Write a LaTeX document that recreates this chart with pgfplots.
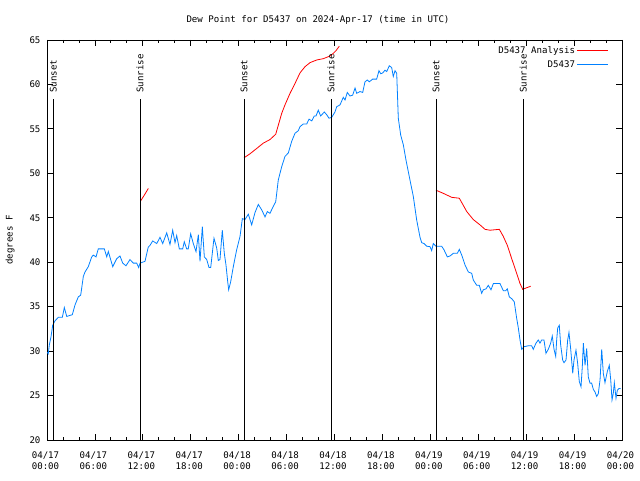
\documentclass[border=0pt]{standalone}
\usepackage{pgfplots}
\pgfplotsset{compat=1.18}
\usepackage{fontspec}
\setmainfont{DejaVu Sans Mono}
\definecolor{serblue}{RGB}{0,128,255}
\definecolor{serred}{RGB}{255,0,0}
\newcommand{\gfont}{\fontsize{9.1}{11}\selectfont}
\begin{document}
\begin{tikzpicture}
\useasboundingbox (0,0) rectangle (640pt,480pt);
\begin{axis}[
  at={(47pt,40pt)}, anchor=south west,
  scale only axis, width=575pt, height=400pt,
  xmin=0, xmax=72, ymin=20, ymax=65,
  xtick={0,6,...,72},
  xticklabels={{04/17\\00:00},{04/17\\06:00},{04/17\\12:00},{04/17\\18:00},{04/18\\00:00},{04/18\\06:00},{04/18\\12:00},{04/18\\18:00},{04/19\\00:00},{04/19\\06:00},{04/19\\12:00},{04/19\\18:00},{04/20\\00:00}},
  minor x tick num=2,
  ytick={20,25,...,65},
  tick align=inside,
  major tick length=6pt, minor tick length=3pt,
  every tick/.style={black, line width=0.8pt},
  axis line style={line width=0.8pt},
  /pgf/number format/assume math mode=true,
  tick label style={font=\gfont},
  xticklabel style={align=center, yshift=-8pt, xshift=-1.5pt},
  yticklabel style={xshift=-3pt},
  ylabel={degrees F},
  ylabel style={font=\gfont, at={(axis description cs:-0.0643,0.5)}, anchor=center, rotate=0},
  legend style={draw=none, fill=none, font=\gfont, at={(axis description cs:0.9774,0.989)}, anchor=north east, row sep=1.5pt, inner sep=0pt},
  legend cell align=right,
  legend plot pos=right,
  legend image code/.code={\path (0pt,0pt) -- (31pt,0pt); \draw[#1] (3pt,0pt) -- (31pt,0pt);},
  unbounded coords=jump,
  clip=true,
]
\addplot[serred, line width=0.8pt] coordinates {
(11.73,46.9) (12.22,47.6) (12.69,48.3)
(12.8,nan)
(24.67,51.75) (25.42,52.2) (26.26,52.8) (27.09,53.4) (27.92,53.8) (28.64,54.4) (28.96,55.4) (29.39,56.75) (29.80,57.7) (30.43,59.0) (31.05,60.1) (31.68,61.3) (32.31,62.0) (32.93,62.45) (33.77,62.75) (34.60,62.9) (35.44,63.2) (35.85,63.5) (36.19,63.8) (36.60,64.3)
(36.7,nan)
(48.71,48.1) (49.62,47.75) (50.68,47.3) (51.63,47.2) (52.56,45.7) (53.38,44.8) (54.22,44.2) (54.85,43.7) (55.47,43.6) (56.64,43.7) (57.14,42.9) (57.64,41.9) (58.19,40.4) (58.81,38.75) (59.23,37.6) (59.57,36.95) (59.98,37.1) (60.57,37.3)
};
\addlegendentry{D5437 Analysis}
\addplot[serblue, line width=0.8pt] coordinates {
(0,29.9) (0.16,29.7) (0.29,30.7) (0.50,31.6) (0.71,32.9) (1.00,33.4) (1.41,33.8) (1.92,33.8) (2.17,34.9) (2.47,33.9) (3.17,34.1) (3.51,35.2) (3.92,36.1) (4.22,36.3) (4.55,38.4) (4.76,38.9) (5.17,39.5) (5.60,40.6) (5.80,40.8) (6.14,40.6) (6.42,41.5) (7.18,41.5) (7.48,40.6) (7.68,41.2) (8.23,39.5) (8.73,40.4) (9.14,40.7) (9.48,39.9) (9.89,39.6) (10.39,40.3) (10.81,39.9) (11.23,39.9) (11.48,39.4) (11.65,39.9) (12.27,40.1) (12.68,41.7) (12.90,41.9) (13.24,42.4) (13.74,42.1) (14.15,42.8) (14.49,42.1) (14.99,43.3) (15.40,42.0) (15.74,43.6) (16.03,42.2) (16.24,43.0) (16.57,41.5) (16.99,41.5) (17.19,42.3) (17.49,41.5) (17.69,41.5) (17.99,43.2) (18.32,42.1) (18.66,41.2) (18.95,43.1) (19.16,40.1) (19.45,44.0) (19.70,40.6) (20.00,40.3) (20.29,39.4) (20.50,39.4) (20.91,42.7) (21.25,41.6) (21.45,40.2) (21.66,40.3) (21.95,43.6) (22.20,41.0) (22.41,39.7) (22.63,37.8) (22.75,36.9) (23.00,37.8) (23.33,39.5) (23.75,41.4) (24.17,42.9) (24.46,44.9) (24.79,44.8) (25.21,45.4) (25.63,44.2) (26.05,45.6) (26.46,46.5) (26.88,45.9) (27.30,45.1) (27.59,45.7) (27.92,45.5) (28.34,46.3) (28.64,46.8) (28.96,49.25) (29.39,50.75) (29.80,51.9) (30.22,52.3) (30.64,53.6) (31.05,54.5) (31.47,54.8) (31.68,55.25) (32.09,55.55) (32.52,55.55) (32.81,56.1) (33.15,55.9) (33.47,56.45) (33.68,56.45) (33.97,57.1) (34.27,56.45) (34.52,56.7) (34.72,56.9) (35.02,56.6) (35.31,56.2) (35.65,56.3) (36.06,56.9) (36.28,57.5) (36.69,57.7) (37.10,58.55) (37.32,58.25) (37.60,59.1) (37.94,58.7) (38.28,58.8) (38.57,59.6) (38.78,59.0) (39.19,59.2) (39.53,59.1) (39.82,60.3) (40.11,60.5) (40.36,60.3) (40.78,60.6) (41.28,60.6) (41.57,61.55) (41.79,61.2) (42.04,61.3) (42.32,61.6) (42.54,61.45) (42.86,62.1) (43.16,61.9) (43.36,60.9) (43.58,61.55) (43.79,61.25) (43.99,56.2) (44.29,54.3) (44.62,53.2) (44.95,51.5) (45.45,49.25) (45.87,47.4) (46.29,44.75) (46.71,42.8) (46.92,42.2) (47.21,42.1) (47.55,41.8) (47.96,41.75) (48.17,41.3) (48.37,42.1) (48.71,41.8) (49.42,41.8) (49.71,41.4) (50.13,40.6) (50.46,40.7) (50.88,41.0) (51.38,41.0) (51.63,41.45) (51.93,40.8) (52.34,39.7) (52.76,38.9) (53.18,38.75) (53.38,38.0) (53.81,37.4) (54.13,37.4) (54.43,36.5) (54.63,36.9) (54.97,37.0) (55.26,37.4) (55.60,36.9) (55.89,37.6) (56.72,37.6) (57.14,36.8) (57.44,36.8) (57.64,37.0) (57.89,36.1) (58.19,35.9) (58.51,35.55) (58.81,33.7) (59.02,32.6) (59.23,31.25) (59.44,30.2) (59.73,30.5) (60.27,30.6) (60.69,30.6) (60.89,30.2) (61.23,30.9) (61.52,31.25) (61.73,30.9) (61.94,31.25) (62.23,31.25) (62.48,29.75) (62.77,30.2) (63.07,30.9) (63.27,31.7) (63.49,30.2) (63.70,29.4) (63.82,31.25) (63.95,32.6) (64.15,32.9) (64.32,30.7) (64.57,29.0) (64.74,28.7) (64.99,29.0) (65.20,31.25) (65.36,32.1) (65.58,30.2) (65.83,27.5) (65.99,29.0) (66.24,30.1) (66.45,28.6) (66.65,26.6) (66.87,26.0) (67.03,28.25) (67.16,30.9) (67.37,28.4) (67.58,30.3) (67.78,27.1) (67.99,26.4) (68.20,26.4) (68.41,25.7) (68.62,25.4) (68.83,24.9) (69.03,25.2) (69.25,26.75) (69.46,30.2) (69.66,27.5) (69.87,26.45) (70.16,27.7) (70.41,28.4) (70.59,26.75) (70.75,24.5) (70.91,25.25) (71.04,26.45) (71.25,24.7) (71.42,25.6) (71.63,25.8) (71.84,25.8)
};
\addlegendentry{D5437}
\foreach \h/\lab in {0.79/Sunset, 11.65/Sunrise, 24.67/Sunset, 35.56/Sunrise, 48.71/Sunset, 59.64/Sunrise} {
  \edef\tmp{\noexpand\addplot[black, line width=0.8pt, forget plot] coordinates {(\h,20) (\h,58.4)};}
  \tmp
  \edef\tmp{\noexpand\node[rotate=90, anchor=west, inner sep=0pt, font=\noexpand\gfont] at (axis cs:\h,59.05) {\lab};}
  \tmp
}
\end{axis}
\node[font=\gfont, anchor=center] at (318pt,460pt) {Dew Point for D5437 on 2024-Apr-17 (time in UTC)};
\end{tikzpicture}
\end{document}
